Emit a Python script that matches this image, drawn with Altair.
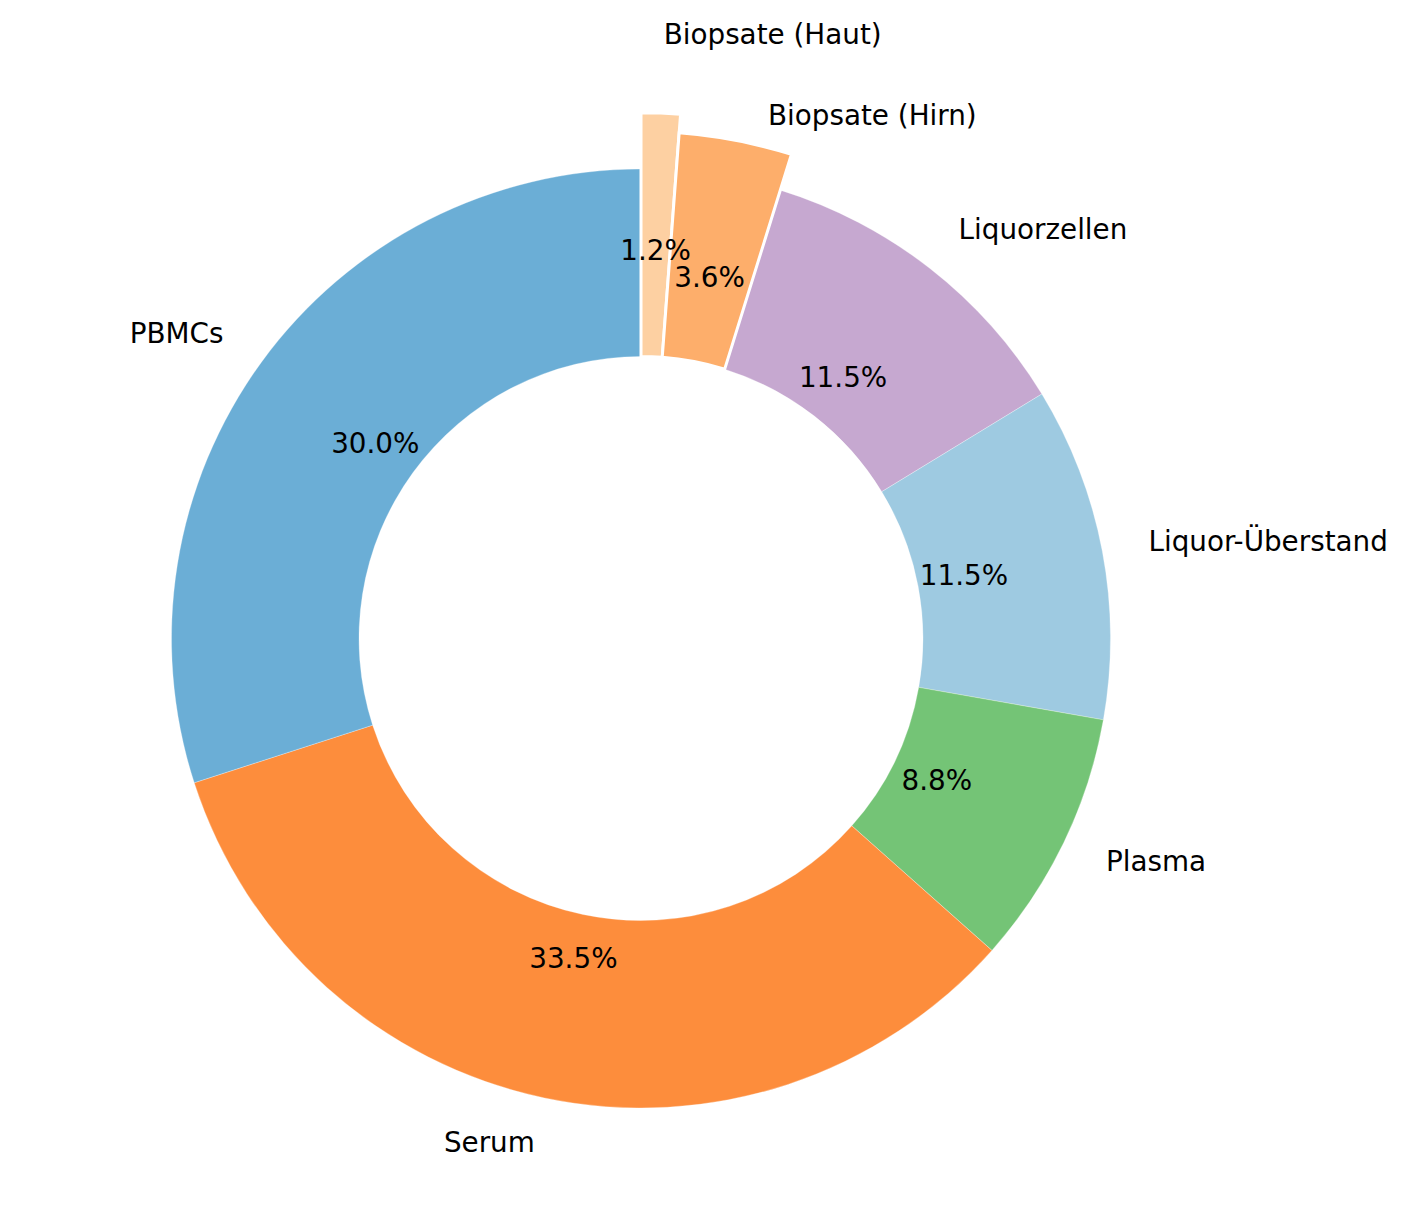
import math
import altair as alt
import pandas as pd

# ---- data (counter-clockwise from 12 o'clock, as in the reference) ----
categories = ["PBMCs", "Serum", "Plasma", "Liquor-Überstand", "Liquorzellen",
              "Biopsate (Hirn)", "Biopsate (Haut)"]
shares = [30.0, 33.5, 8.8, 11.5, 11.5, 3.6, 1.2]
colors = ["#6baed6", "#fd8d3c", "#74c476", "#9ecae1", "#c6a8d0", "#fdae6b", "#fdd0a2"]

# ---- layout / style ----
W, H = 1394, 1213
CX, CY = 633, 630.5          # donut centre inside the plot area
R_OUT = 469.5
R_IN = 282
FONT = "DejaVu Sans"
FS = 27.8
LABEL_DIST = 1.1
PCT_DIST = 0.7
highlight_radius = {"Biopsate (Hirn)": 1.08, "Biopsate (Haut)": 1.12}
label_place = {"Biopsate (Hirn)": (1.143, 2.9), "Biopsate (Haut)": (1.284, 0.0)}
pct_place = {"Biopsate (Hirn)": 0.78, "Biopsate (Haut)": 0.823}

# Vega draws theta clockwise, so reverse to obtain the counter-clockwise order
cw = list(reversed(range(len(categories))))
total = sum(shares)
rows = []
acc = 0.0
for i in cw:
    cat, v = categories[i], shares[i]
    start, end = acc, acc + v
    acc = end
    mid = (start + end) / 2 / total * 2 * math.pi
    ld, shift = label_place.get(cat, (LABEL_DIST, 0.0))
    la = mid + math.radians(shift)
    pd_ = pct_place.get(cat, PCT_DIST)
    lx = CX + ld * R_OUT * math.sin(la)
    rows.append({
        "category": cat,
        "value": v,
        "start": start,
        "end": end,
        "outer": R_OUT * highlight_radius.get(cat, 1.0),
        "hl": cat in highlight_radius,
        "lx": lx,
        "ly": CY - ld * R_OUT * math.cos(la),
        "side": "left" if lx > CX else "right",
        "px": CX + pd_ * R_OUT * math.sin(mid),
        "py": CY - pd_ * R_OUT * math.cos(mid),
        "pct": f"{v:.1f}%",
    })
df = pd.DataFrame(rows)

base = alt.Chart(df)
color = alt.Color("category:N", scale=alt.Scale(domain=categories, range=colors), legend=None)
theta = alt.Theta("start:Q", scale=alt.Scale(domain=[0, total], range=[0, 2 * math.pi]))

arcs = base.mark_arc(innerRadius=R_IN, stroke="white", strokeWidth=0.3).encode(
    theta=theta, theta2="end:Q",
    radius=alt.Radius("outer:Q", scale=None),
    color=color,
    x=alt.value(CX), y=alt.value(CY),
)
hl_arcs = base.transform_filter("datum.hl").mark_arc(
    innerRadius=R_IN, stroke="white", strokeWidth=3).encode(
    theta=theta, theta2="end:Q",
    radius=alt.Radius("outer:Q", scale=None),
    color=color,
    x=alt.value(CX), y=alt.value(CY),
)

def text_layer(side):
    return base.transform_filter(f"datum.side == '{side}'").mark_text(
        font=FONT, fontSize=FS, color="black", align=side, baseline="middle"
    ).encode(
        x=alt.X("lx:Q", scale=None, axis=None),
        y=alt.Y("ly:Q", scale=None, axis=None),
        text="category:N",
    )

pct = base.mark_text(font=FONT, fontSize=FS, color="black", align="center",
                     baseline="middle").encode(
    x=alt.X("px:Q", scale=None, axis=None),
    y=alt.Y("py:Q", scale=None, axis=None),
    text="pct:N",
)

chart = alt.layer(arcs, hl_arcs, pct, text_layer("left"), text_layer("right")).properties(
    width=W, height=H, autosize=alt.AutoSizeParams(type="none"), padding=0
).configure_view(stroke=None)

chart.save("out.html", embed_options={"renderer": "svg", "actions": False})
